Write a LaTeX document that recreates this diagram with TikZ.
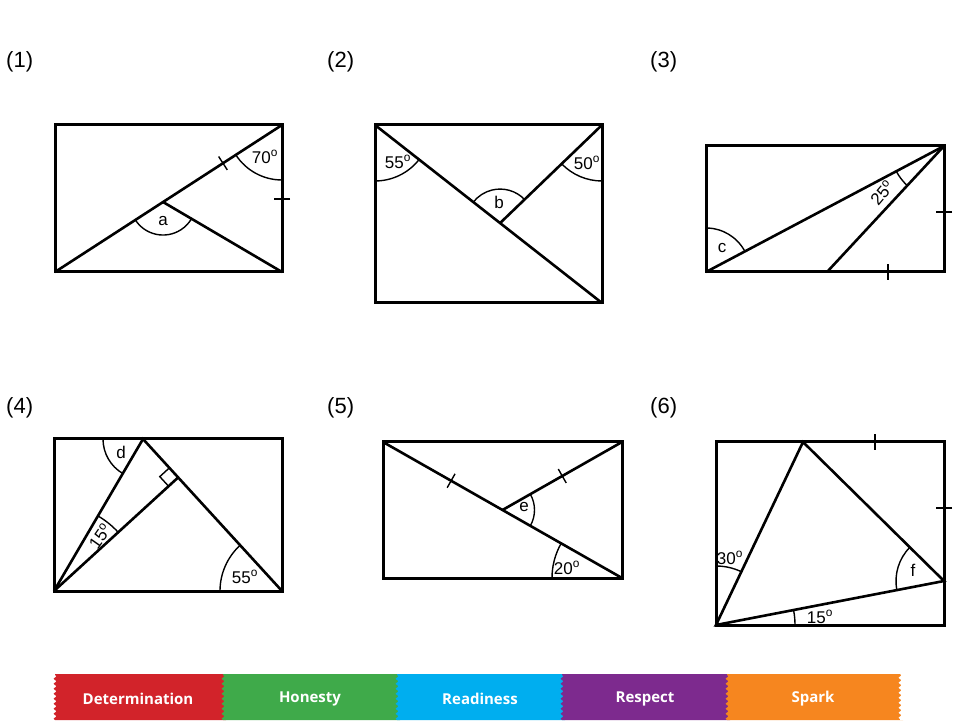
\documentclass[tikz,border=0pt]{standalone}
\usepackage{fontspec}
\setmainfont{Liberation Sans}
\newfontfamily\bannerfont{Open Sans}
\usetikzlibrary{calc,angles,decorations.pathmorphing,decorations.markings}
\definecolor{cred}{HTML}{D2232A}
\definecolor{cgreen}{HTML}{3FAA4A}
\definecolor{cblue}{HTML}{00AEEF}
\definecolor{cpurple}{HTML}{7D2A8E}
\definecolor{corange}{HTML}{F6861F}
\tikzset{
  frame/.style={line width=3pt},
  seg/.style={line width=2.6pt},
  ang/.style={draw, line width=1.4pt},
  lab/.style={font=\fontsize{17}{20}\selectfont, inner sep=0pt},
  num/.style={font=\fontsize{22}{26}\selectfont, anchor=west, inner sep=0pt},
  tickat/.style={postaction={decorate,decoration={markings,mark=at position #1 with {\draw[line width=1.4pt] (0,-8pt) -- (0,8pt);}}}},
  zz/.style={decoration={zigzag,segment length=5pt,amplitude=1.5pt}},
  btxt/.style={font=\bannerfont\bfseries\fontsize{15}{18}\selectfont, text=white, inner sep=0pt}
}
\begin{document}
\begin{tikzpicture}[x=1pt,y=1pt]
\useasboundingbox (0,0) rectangle (960,720);
% labels
\node[num] (n1) at (6,658) {(1)};
\node[num] (n2) at (327,658) {(2)};
\node[num] (n3) at (650,658) {(3)};
\node[num] (n4) at (6,312) {(4)};
\node[num] (n5) at (327,312) {(5)};
\node[num] (n6) at (650,312) {(6)};
% ---------- Diagram 1
\coordinate (A1) at (55,448); \coordinate (B1) at (282,448);
\coordinate (C1) at (282,595); \coordinate (D1) at (55,595);
\coordinate (M1) at ($(A1)!0.476!(C1)$);
\draw[frame] (A1) rectangle (C1);
\draw[seg] (A1) -- (C1);
\draw[seg] (M1) -- (B1);
\pic[ang, angle radius=33pt] {angle=A1--M1--B1};
\pic[ang, angle radius=55pt] {angle=A1--C1--B1};
\node[lab] (la) at (163,499) {a};
\node[lab] (l70) at (265,563) {70\textsuperscript{o}};
\path[tickat=0.74] (A1) -- (C1);
\path[tickat=0.497] (B1) -- (C1);
% ---------- Diagram 2
\coordinate (A2) at (375,417); \coordinate (B2) at (602,417);
\coordinate (C2) at (602,595); \coordinate (D2) at (375,595);
\coordinate (M2) at ($(D2)!0.551!(B2)$);
\draw[frame] (A2) rectangle (C2);
\draw[seg] (D2) -- (B2);
\draw[seg] (C2) -- (M2);
\pic[ang, angle radius=56pt] {angle=A2--D2--B2};
\pic[ang, angle radius=56pt] {angle=M2--C2--B2};
\pic[ang, angle radius=34pt] {angle=C2--M2--D2};
\node[lab] (l55) at (398,558) {55\textsuperscript{o}};
\node[lab] (l50) at (587,557) {50\textsuperscript{o}};
\node[lab] (lb) at (499,518) {b};
% ---------- Diagram 3
\coordinate (A3) at (706,448); \coordinate (B3) at (944,448);
\coordinate (C3) at (944,574); \coordinate (D3) at (706,574);
\coordinate (P3) at (827,448);
\draw[frame] (A3) rectangle (C3);
\draw[seg] (A3) -- (C3);
\draw[seg] (C3) -- (P3);
\pic[ang, angle radius=44pt] {angle=C3--A3--D3};
\pic[ang, angle radius=54pt] {angle=A3--C3--P3};
\node[lab] (lc) at (722,472) {c};
\node[lab, rotate=50] (l25) at (882,527) {25\textsuperscript{o}};
\path[tickat=0.476] (B3) -- (C3);
\path[tickat=0.765] (A3) -- (B3);
% ---------- Diagram 4
\coordinate (A4) at (54,129); \coordinate (B4) at (282,129);
\coordinate (C4) at (282,281); \coordinate (D4) at (54,281);
\coordinate (P4) at (143,281);
\coordinate (F4) at ($(P4)!(A4)!(B4)$);
\draw[frame] (A4) rectangle (C4);
\draw[seg] (A4) -- (P4) -- (B4);
\draw[seg] (A4) -- (F4);
\coordinate (Fa) at ($(F4)!13pt!(P4)$);
\coordinate (Fb) at ($(F4)!13pt!(A4)$);
\draw[line width=1.4pt] (Fa) -- ($(Fa)+(Fb)-(F4)$) -- (Fb);
\pic[ang, angle radius=40pt] {angle=D4--P4--A4};
\pic[ang, angle radius=87pt] {angle=F4--A4--P4};
\pic[ang, angle radius=62pt] {angle=P4--B4--A4};
\node[lab] (ld) at (121,268) {d};
\node[lab, rotate=55] (l15a) at (100,184) {15\textsuperscript{o}};
\node[lab] (l55b) at (245,143) {55\textsuperscript{o}};
% ---------- Diagram 5
\coordinate (A5) at (383,142); \coordinate (B5) at (622,142);
\coordinate (C5) at (622,278); \coordinate (D5) at (383,278);
\coordinate (M5) at ($(D5)!0.5!(B5)$);
\draw[frame] (A5) rectangle (C5);
\draw[seg] (D5) -- (B5);
\draw[seg] (M5) -- (C5);
\pic[ang, angle radius=32pt] {angle=B5--M5--C5};
\pic[ang, angle radius=70pt] {angle=D5--B5--A5};
\node[lab] (le) at (524,213) {e};
\node[lab] (l20) at (567,152) {20\textsuperscript{o}};
\path[tickat=0.285] (D5) -- (B5);
\path[tickat=0.5] (M5) -- (C5);
% ---------- Diagram 6
\coordinate (A6) at (716,95); \coordinate (B6) at (944,95);
\coordinate (C6) at (944,278); \coordinate (D6) at (716,278);
\coordinate (P6) at (803,278); \coordinate (Q6) at (944,139);
\draw[frame] (A6) rectangle (C6);
\draw[seg, line join=miter] (A6) -- (P6) -- (Q6) -- cycle;
\pic[ang, angle radius=59pt] {angle=P6--A6--D6};
\pic[ang, angle radius=79pt] {angle=B6--A6--Q6};
\pic[ang, angle radius=48pt] {angle=P6--Q6--A6};
\node[lab] (l30) at (730,162) {30\textsuperscript{o}};
\node[lab] (l15b) at (820,103) {15\textsuperscript{o}};
\node[lab] (lf) at (913,150) {f};
\path[tickat=0.697] (D6) -- (C6);
\path[tickat=0.64] (B6) -- (C6);
% ---------- Banner
\fill[cred] decorate[zz]{(55,0) -- (55,46)} -- (226,46) -- (226,0) -- (55,0);
\fill[cgreen] decorate[zz]{(223,0) -- (223,46)} -- (400,46) -- (400,0) -- (223,0);
\fill[cblue] decorate[zz]{(397,0) -- (397,46)} -- (565,46) -- (565,0) -- (397,0);
\fill[cpurple] decorate[zz]{(562,0) -- (562,46)} -- (730,46) -- (730,0) -- (562,0);
\fill[corange] decorate[zz]{(727,0) -- (727,46)} -- (903,46) -- (903,0) -- (727,0);
\fill[white] decorate[zz]{(900,46) -- (900,0)} -- (910,0) -- (910,46) -- (900,46);
\node[btxt] (t1) at (138,21) {Determination};
\node[btxt] (t2) at (310,21) {Honesty};
\node[btxt] (t3) at (480,21) {Readiness};
\node[btxt] (t4) at (645,21) {Respect};
\node[btxt] (t5) at (813,21) {Spark};
\end{tikzpicture}
\end{document}
